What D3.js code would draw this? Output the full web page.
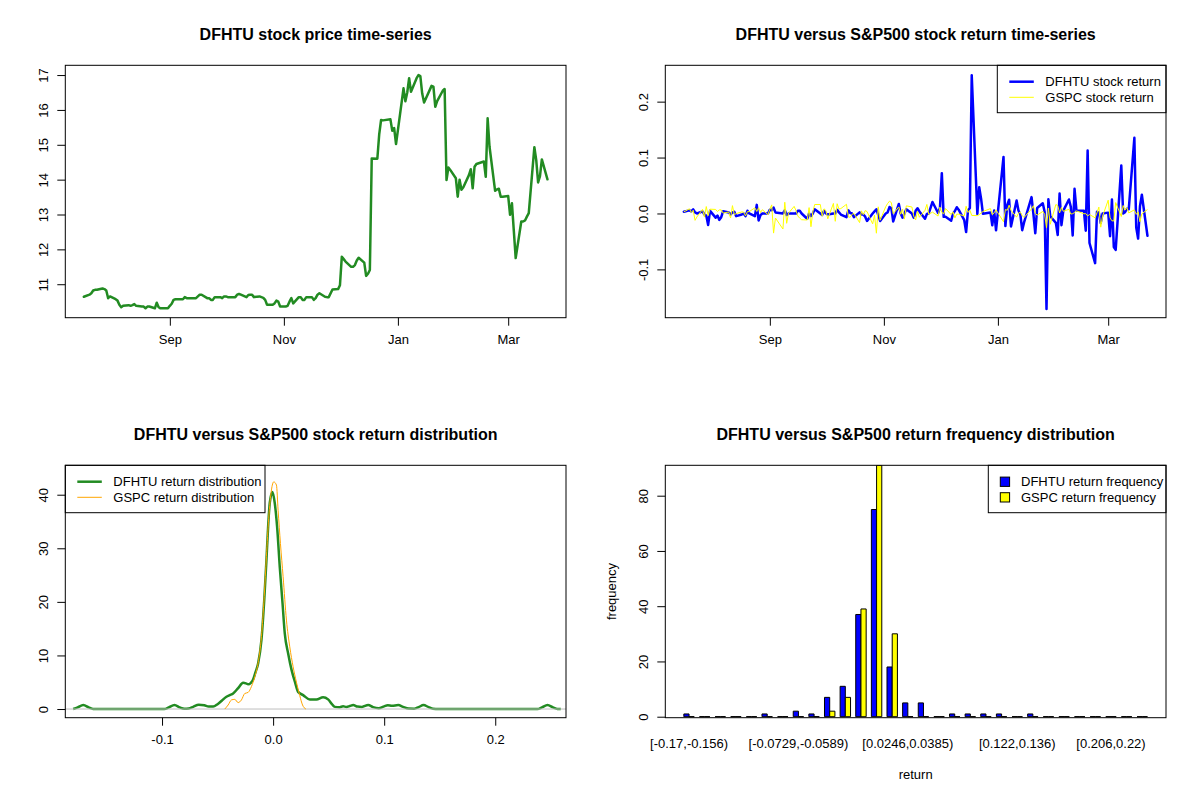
<!DOCTYPE html>
<html>
<head>
<meta charset="utf-8">
<script src="https://cdn.jsdelivr.net/npm/d3@7"></script>
<style>
  body { margin: 0; background: #fff; }
  svg { display: block; }
</style>
</head>
<body>
<svg id="chart" width="1200" height="800"></svg>
<script>
// ---- data ----------------------------------------------------------------
// trading calendar (NYSE days between first and last day, minus holidays)
const firstDay = "2020-07-17";
const lastDay = "2021-03-22";
const holidays = ["2020-09-07", "2020-11-26", "2020-12-25", "2021-01-01", "2021-01-18", "2021-02-15"];

// DFHTU closing price
const dfhtuPrice = [
  10.64, 10.70, 10.74, 10.82, 10.84, 10.84, 10.88, 10.86, 10.82, 10.60, 10.65, // jul
  10.57, 10.53, 10.41, 10.34, 10.38, 10.40, 10.38, 10.40, 10.43, 10.38, 10.36, 10.36, 10.31, 10.36, 10.36, 10.31, 10.47, 10.34, 10.31, 10.31, 10.31, // aug
  10.38, 10.44, 10.55, 10.57, 10.57, 10.63, 10.60, 10.60, 10.60, 10.60, 10.65, 10.70, 10.70, 10.60, 10.60, 10.55, 10.55, 10.63, 10.63, 10.60, 10.65, // sep
  10.65, 10.63, 10.63, 10.63, 10.70, 10.72, 10.70, 10.63, 10.69, 10.70, 10.70, 10.63, 10.65, 10.63, 10.61, 10.55, 10.41, 10.41, 10.45, 10.53, 10.50, 10.36, // oct
  10.36, 10.38, 10.50, 10.60, 10.45, 10.63, 10.63, 10.55, 10.55, 10.63, 10.63, 10.55, 10.60, 10.70, 10.74, 10.64, 10.63, 10.63, 10.85, 10.86, // nov
  10.97, 11.79, 11.72, 11.65, 11.50, 11.50, 11.55, 11.68, 11.76, 11.62, 11.24, 11.30, 11.41, 14.61, 14.60, 15.30, 15.71, 15.70, 15.73, 15.40, 15.48, 15.02, // dec
  16.62, 16.25, 16.50, 16.91, 16.52, 16.91, 17.00, 16.97, 16.47, 16.21, 16.69, 16.67, 16.09, 16.25, 16.55, 16.60, 13.99, 14.35, 14.28, // jan
  14.04, 13.51, 14.00, 13.71, 13.78, 14.13, 14.30, 13.75, 14.37, 14.45, 14.52, 14.08, 15.76, 14.95, 13.68, 13.72, 13.74, 13.51, 13.51, // feb
  13.53, 12.99, 13.32, 12.54, 11.75, 12.80, 12.80, 12.83, 12.94, 13.04, 14.93, 14.56, 13.92, 14.10, 14.58, 14.01  // mar
];

// daily returns
const dfhtuReturn = [
  0.003, 0.0056, 0.0037, 0.0074, 0.0018, 0, 0.0037, -0.0018, -0.0037, -0.0205, 0.0047,
  -0.0075, -0.0038, -0.0115, -0.0067, 0.0039, 0.0019, -0.0019, 0.0019, 0.0029, -0.0048, -0.0019, 0, -0.0048, 0.0048, 0, -0.0048, 0.0154, -0.0125, -0.0029, 0, 0,
  0.0068, 0.0058, 0.0105, 0.0019, 0, 0.0057, -0.0028, 0, 0, 0, 0.0047, 0.0047, 0, -0.0094, 0, -0.0047, 0, 0.0075, 0, -0.0028, 0.0047,
  0, -0.0019, 0, 0, 0.0066, 0.0019, -0.0019, -0.0066, 0.0056, 0.0009, 0, -0.0066, 0.0019, -0.0019, -0.0019, -0.0057, -0.0134, 0, 0.0038, 0.0076, -0.0029, -0.0134,
  0, 0.0019, 0.0115, 0.0095, -0.0143, 0.0171, 0, -0.0076, 0, 0.0076, 0, -0.0076, 0.0047, 0.0094, 0.0037, -0.0094, -0.0009, 0, 0.0205, 0.0009,
  0.0101, 0.0721, -0.006, -0.006, -0.013, 0, 0.0043, 0.0112, 0.0068, -0.012, -0.0332, 0.0053, 0.0097, 0.2472, -0.0007, 0.0468, 0.0264, -0.0006, 0.0019, -0.0212, 0.0052, -0.0302,
  0.1012, -0.0225, 0.0153, 0.0245, -0.0233, 0.0233, 0.0053, -0.0018, -0.0299, -0.0159, 0.0292, -0.0012, -0.0354, 0.0099, 0.0183, 0.003, -0.1709, 0.0254, -0.0049,
  -0.0169, -0.0385, 0.0356, -0.0209, 0.0051, 0.0251, 0.012, -0.0392, 0.0441, 0.0055, 0.0048, -0.0308, 0.1127, -0.0528, -0.0888, 0.0029, 0.0015, -0.0169, 0,
  0.0015, -0.0407, 0.0251, -0.06, -0.0651, 0.0856, 0, 0.0023, 0.0085, 0.0077, 0.1354, -0.0251, -0.045, 0.0128, 0.0335, -0.0399
];
const gspcReturn = [
  0.0028, 0.0084, 0.0017, 0.0057, -0.0123, -0.0062, 0.0074, -0.0065, 0.0124, -0.0038, 0.0077,
  0.0072, 0.0036, 0.0064, 0.0064, 0.0006, 0.0027, -0.008, 0.014, -0.002, -0.0002, 0.0027, 0.0023, -0.0044, 0.0032, 0.0034, 0.01, 0.0036, 0.0102, 0.0017, 0.0067, -0.0022,
  0.0075, 0.0154, -0.0351, -0.0081, -0.0278, 0.0201, -0.0176, 0.0005, 0.0127, 0.0052, -0.0046, -0.0084, -0.0112, -0.0116, 0.0105, -0.0237, 0.003, 0.016, 0.0161, -0.0048, 0.0083,
  0.0053, -0.0096, 0.018, -0.014, 0.0174, 0.008, 0.0088, 0.0164, -0.0063, -0.0066, -0.0015, 0.0001, -0.0163, 0.0047, -0.0022, 0.0052, 0.0034, -0.0186, -0.003, -0.0353, 0.0119, -0.0121,
  0.0123, 0.0178, 0.022, 0.0195, -0.0003, 0.0117, -0.0014, 0.0077, -0.01, 0.0136, 0.0116, -0.0048, -0.0116, 0.0039, -0.0068, 0.0056, 0.0162, -0.0016, 0.0024, -0.0046,
  0.0113, 0.0018, -0.0006, 0.0088, -0.0019, 0.0028, -0.0079, -0.0013, -0.0013, -0.0044, 0.0129, 0.0018, 0.0058, -0.0035, -0.0039, -0.0021, 0.0007, 0.0035, 0.0087, -0.0022, 0.0013, 0.0064,
  -0.0148, 0.0071, 0.0057, 0.0148, 0.0055, -0.0066, 0.0004, 0.0023, -0.0038, -0.0072, 0.0081, 0.0139, 0.0003, -0.003, 0.0036, -0.0015, -0.0257, 0.0098, -0.0193,
  0.0161, 0.0139, 0.001, 0.0109, 0.0039, 0.0074, -0.0011, -0.0003, 0.0017, 0.0047, -0.0006, -0.0003, -0.0044, -0.0019, -0.0077, 0.0013, 0.0114, -0.0245, -0.0048,
  0.0238, -0.0081, -0.0131, -0.0134, 0.0195, -0.0054, 0.0142, 0.006, 0.0104, 0.001, 0.0065, -0.0016, 0.0029, -0.0148, -0.0006, 0.007
];

// kernel density curves (x, density)
const densDfhtuX = [-0.180, -0.176, -0.1709, -0.166, -0.162, -0.157, -0.098, -0.094, -0.0888, -0.084, -0.080, -0.076, -0.072, -0.067, -0.062, -0.058, -0.054, -0.050, -0.046, -0.042, -0.039, -0.036, -0.0315, -0.027, -0.0245, -0.0225, -0.020, -0.018, -0.016, -0.0135, -0.0105, -0.008, -0.006, -0.0045, -0.003, -0.0006, 0.0015, 0.0036, 0.006, 0.0085, 0.0105, 0.0135, 0.0166, 0.0196, 0.0225, 0.027, 0.033, 0.039, 0.045, 0.0495, 0.053, 0.0556, 0.060, 0.063, 0.066, 0.069, 0.0721, 0.076, 0.080, 0.0856, 0.090, 0.095, 0.100, 0.1032, 0.107, 0.1127, 0.117, 0.122, 0.127, 0.131, 0.1354, 0.140, 0.144, 0.149, 0.238, 0.242, 0.2471, 0.252, 0.256, 0.259];
const densDfhtuY = [0, 0.3, 0.75, 0.3, 0.02, 0, 0, 0.3, 0.75, 0.3, 0.05, 0.1, 0.4, 0.8, 0.7, 0.45, 0.45, 0.9, 1.6, 2.3, 2.6, 2.9, 3.9, 4.9, 4.8, 4.6, 4.9, 5.5, 6.8, 8.5, 12.9, 20.3, 27.8, 34.0, 38.5, 40.5, 38.4, 34.0, 26.5, 19.7, 14.1, 10.4, 7.3, 5.1, 3.2, 2.6, 1.8, 1.8, 2.2, 1.8, 0.9, 0.4, 0.35, 0.5, 0.4, 0.55, 0.75, 0.45, 0.4, 0.75, 0.35, 0.15, 0.5, 0.7, 0.6, 0.75, 0.4, 0.08, 0.05, 0.35, 0.75, 0.35, 0.05, 0, 0, 0.3, 0.75, 0.3, 0.02, 0];
const densGspcX = [-0.0435, -0.0405, -0.0375, -0.0345, -0.0315, -0.0285, -0.0255, -0.0225, -0.0195, -0.0165, -0.0135, -0.0105, -0.008, -0.006, -0.004, -0.0015, 0.0006, 0.003, 0.0045, 0.0066, 0.009, 0.012, 0.015, 0.018, 0.021, 0.024, 0.0265, 0.0295];
const densGspcY = [0, 0.75, 1.7, 1.8, 1.2, 1.7, 2.9, 3.1, 4.2, 6.0, 8.6, 13.5, 21.0, 28.5, 35.5, 40.9, 42.4, 41.8, 37.1, 30.9, 24.7, 16.6, 11.6, 7.9, 5.0, 2.5, 0.75, 0];

// return frequency by bin (30 equal bins)
const dfhtuFreq = [1, 0, 0, 0, 0, 1, 0, 2, 1, 7, 11, 37, 75, 18, 5, 5, 0, 1, 1, 1, 1, 0, 1, 0, 0, 0, 0, 0, 0, 0];
const gspcFreq = [0, 0, 0, 0, 0, 0, 0, 0, 0, 2, 7, 39, 91, 30, 0, 0, 0, 0, 0, 0, 0, 0, 0, 0, 0, 0, 0, 0, 0, 0];
const binTickIdx = [0, 7, 14, 21, 27];
const binTickLabels = ["[-0.17,-0.156)", "[-0.0729,-0.0589)", "[0.0246,0.0385)", "[0.122,0.136)", "[0.206,0.22)"];

// axis ticks
const dateTicks = ["2020-09-01", "2020-11-01", "2021-01-01", "2021-03-01"];
const dateTickLabels = ["Sep", "Nov", "Jan", "Mar"];
const priceTicks = [11, 12, 13, 14, 15, 16, 17];
const returnTicks = [-0.1, 0, 0.1, 0.2];
const returnTickLabels = ["-0.1", "0.0", "0.1", "0.2"];
const densTicks = [0, 10, 20, 30, 40];
const freqTicks = [0, 20, 40, 60, 80];

// ---- drawing -------------------------------------------------------------
const FONT = '"Liberation Sans", Arial, Helvetica, sans-serif';
const FS = 13;
const svg = d3.select("#chart").attr("font-family", FONT);
svg.append("rect").attr("width", 1200).attr("height", 800).attr("fill", "#fff");

const fmt = d3.utcFormat("%Y-%m-%d");
const hol = new Set(holidays);
const dates = d3.utcDay.range(new Date(firstDay), d3.utcDay.offset(new Date(lastDay), 1))
  .filter(d => d.getUTCDay() % 6 !== 0 && !hol.has(fmt(d)));

const PW = 600, PH = 400;
const M = { left: 65.3, right: 34, top: 65.3, bottom: 82.3 };
const W = PW - M.left - M.right, H = PH - M.top - M.bottom;

function makePanel(ox, oy, title, id) {
  const g = svg.append("g").attr("transform", `translate(${ox},${oy})`);
  g.append("text")
    .attr("x", M.left + W / 2).attr("y", 40)
    .attr("text-anchor", "middle").attr("font-weight", "bold").attr("font-size", 16)
    .text(title);
  svg.append("clipPath").attr("id", id).append("rect").attr("width", W).attr("height", H);
  const plot = g.append("g").attr("transform", `translate(${M.left},${M.top})`);
  const inner = plot.append("g").attr("clip-path", `url(#${id})`);
  return { g, plot, inner };
}

function bottomAxis(plot, scale, ticks, labels) {
  plot.append("g").attr("transform", `translate(0,${H})`)
    .call(d3.axisBottom(scale).tickValues(ticks).tickFormat((d, i) => labels[i]).tickSize(8).tickPadding(9))
    .call(a => a.select(".domain").remove())
    .attr("font-family", FONT).attr("font-size", FS)
    .selectAll("line").attr("stroke", "#000");
}
function leftAxis(plot, scale, ticks, labels) {
  const a = plot.append("g")
    .call(d3.axisLeft(scale).tickValues(ticks).tickFormat((d, i) => labels ? labels[i] : d).tickSize(8))
    .call(a => a.select(".domain").remove())
    .attr("font-family", FONT).attr("font-size", FS);
  a.selectAll(".tick text")
    .attr("transform", "rotate(-90)").attr("x", 0).attr("y", -17).attr("dy", 0)
    .attr("text-anchor", "middle");
}
function box(plot) {
  plot.append("rect").attr("width", W).attr("height", H)
    .attr("fill", "none").attr("stroke", "#000").attr("stroke-width", 1);
}
function legendLines(plot, x, w, items) {
  const lg = plot.append("g");
  lg.append("rect").attr("x", x).attr("y", 0).attr("width", w).attr("height", 47.4)
    .attr("fill", "#fff").attr("stroke", "#000");
  items.forEach((it, i) => {
    const yy = 16.4 + i * 15.6;
    lg.append("line").attr("x1", x + 12).attr("x2", x + 36.5).attr("y1", yy).attr("y2", yy)
      .attr("stroke", it.color).attr("stroke-width", it.width);
    lg.append("text").attr("x", x + 48).attr("y", yy + 4.6).attr("font-size", FS).text(it.label);
  });
}

const xDate = d3.scaleUtc().range([0, W]);
{
  const [d0, d1] = d3.extent(dates);
  const pad = (d1 - d0) * 0.04;
  xDate.domain([new Date(+d0 - pad), new Date(+d1 + pad)]);
}
const dateTickVals = dateTicks.map(s => new Date(s));

// panel 1: price
{
  const p = makePanel(0, 0, "DFHTU stock price time-series", "c1");
  const y = d3.scaleLinear().domain([10.04, 17.28]).range([H, 0]);
  p.inner.append("path").datum(dfhtuPrice)
    .attr("d", d3.line().x((d, i) => xDate(dates[i])).y(d => y(d)))
    .attr("fill", "none").attr("stroke", "#228B22").attr("stroke-width", 2.5)
    .attr("stroke-linejoin", "round").attr("stroke-linecap", "round");
  box(p.plot);
  bottomAxis(p.plot, xDate, dateTickVals, dateTickLabels);
  leftAxis(p.plot, y, priceTicks);
}

// panel 2: returns
{
  const p = makePanel(600, 0, "DFHTU versus S&P500 stock return time-series", "c2");
  const y = d3.scaleLinear().domain([-0.1864, 0.265]).range([H, 0]);
  const line = d3.line().x((d, i) => xDate(dates[i])).y(d => y(d));
  p.inner.append("path").datum(dfhtuReturn).attr("d", line)
    .attr("fill", "none").attr("stroke", "#0000FF").attr("stroke-width", 2.5)
    .attr("stroke-linejoin", "round").attr("stroke-linecap", "round");
  p.inner.append("path").datum(gspcReturn).attr("d", line)
    .attr("fill", "none").attr("stroke", "#FFFF00").attr("stroke-width", 1)
    .attr("stroke-linejoin", "round");
  legendLines(p.plot, W - 168.7, 168.7, [
    { label: "DFHTU stock return", color: "#0000FF", width: 2.5 },
    { label: "GSPC stock return", color: "#FFFF00", width: 1 }
  ]);
  box(p.plot);
  bottomAxis(p.plot, xDate, dateTickVals, dateTickLabels);
  leftAxis(p.plot, y, returnTicks, returnTickLabels);
}

// panel 3: density
{
  const p = makePanel(0, 400, "DFHTU versus S&P500 stock return distribution", "c3");
  const x = d3.scaleLinear().domain([-0.1871, 0.2637]).range([0, W]);
  const y = d3.scaleLinear().domain([-1.62, 45.49]).range([H, 0]);
  const line = d3.line().curve(d3.curveMonotoneX).x(d => x(d[0])).y(d => y(d[1]));
  p.inner.append("path").datum(d3.zip(densDfhtuX, densDfhtuY)).attr("d", line)
    .attr("fill", "none").attr("stroke", "#228B22").attr("stroke-width", 2.5)
    .attr("stroke-linejoin", "round");
  p.inner.append("line").attr("x1", 0).attr("x2", W).attr("y1", y(0)).attr("y2", y(0))
    .attr("stroke", "#BEBEBE").attr("stroke-width", 1);
  p.inner.append("path").datum(d3.zip(densGspcX, densGspcY)).attr("d", line)
    .attr("fill", "none").attr("stroke", "#FFA500").attr("stroke-width", 1);
  legendLines(p.plot, 0, 199.7, [
    { label: "DFHTU return distribution", color: "#228B22", width: 2.5 },
    { label: "GSPC return distribution", color: "#FFA500", width: 1 }
  ]);
  box(p.plot);
  bottomAxis(p.plot, x, returnTicks, returnTickLabels);
  leftAxis(p.plot, y, densTicks);
}

// panel 4: frequency barplot
{
  const p = makePanel(600, 400, "DFHTU versus S&P500 return frequency distribution", "c4");
  const n = dfhtuFreq.length;
  const xu = d3.scaleLinear().domain([1 - 0.04 * (3 * n - 1), 3 * n + 0.04 * (3 * n - 1)]).range([0, W]);
  const xb = d3.scaleBand().domain(d3.range(n)).range([xu(1), xu(3 * n)]).paddingInner(1 / 3).paddingOuter(0);
  const xs = d3.scaleBand().domain(["DFHTU", "GSPC"]).range([0, xb.bandwidth()]);
  const y = d3.scaleLinear().domain([-0.36, 91]).range([H, 0]);
  const series = [
    { key: "DFHTU", vals: dfhtuFreq, color: "#0000FF" },
    { key: "GSPC", vals: gspcFreq, color: "#FFFF00" }
  ];
  series.forEach(s => {
    p.inner.selectAll(null).data(s.vals).join("path")
      .attr("d", (v, i) => {
        const x0 = xb(i) + xs(s.key), x1 = x0 + xs.bandwidth();
        return `M${x0},${y(0)}V${y(v)}H${x1}V${y(0)}Z`;
      })
      .attr("fill", s.color).attr("stroke", "#000").attr("stroke-width", 1);
  });
  // category labels (no axis line / ticks, like barplot names)
  p.plot.append("g").selectAll("text").data(binTickIdx).join("text")
    .attr("x", k => xb(k) + xb.bandwidth() / 2).attr("y", H + 30)
    .attr("text-anchor", "middle").attr("font-size", FS)
    .text((k, i) => binTickLabels[i]);
  // legend
  const lx = W - 177.7;
  const lg = p.plot.append("g");
  lg.append("rect").attr("x", lx).attr("y", 0).attr("width", 177.7).attr("height", 47.4)
    .attr("fill", "#fff").attr("stroke", "#000");
  series.forEach((s, i) => {
    const yy = 16.4 + i * 15.6;
    lg.append("rect").attr("x", lx + 12).attr("y", yy - 4.6).attr("width", 9.3).attr("height", 9.3)
      .attr("fill", s.color).attr("stroke", "#000");
    lg.append("text").attr("x", lx + 32.7).attr("y", yy + 4.6).attr("font-size", FS)
      .text(s.key + " return frequency");
  });
  box(p.plot);
  leftAxis(p.plot, y, freqTicks);
  p.plot.append("text").attr("x", W / 2).attr("y", H + 61).attr("text-anchor", "middle")
    .attr("font-size", FS).text("return");
  p.plot.append("text").attr("transform", `translate(${-49},${H / 2}) rotate(-90)`)
    .attr("text-anchor", "middle").attr("font-size", FS).text("frequency");
}
</script>
</body>
</html>
